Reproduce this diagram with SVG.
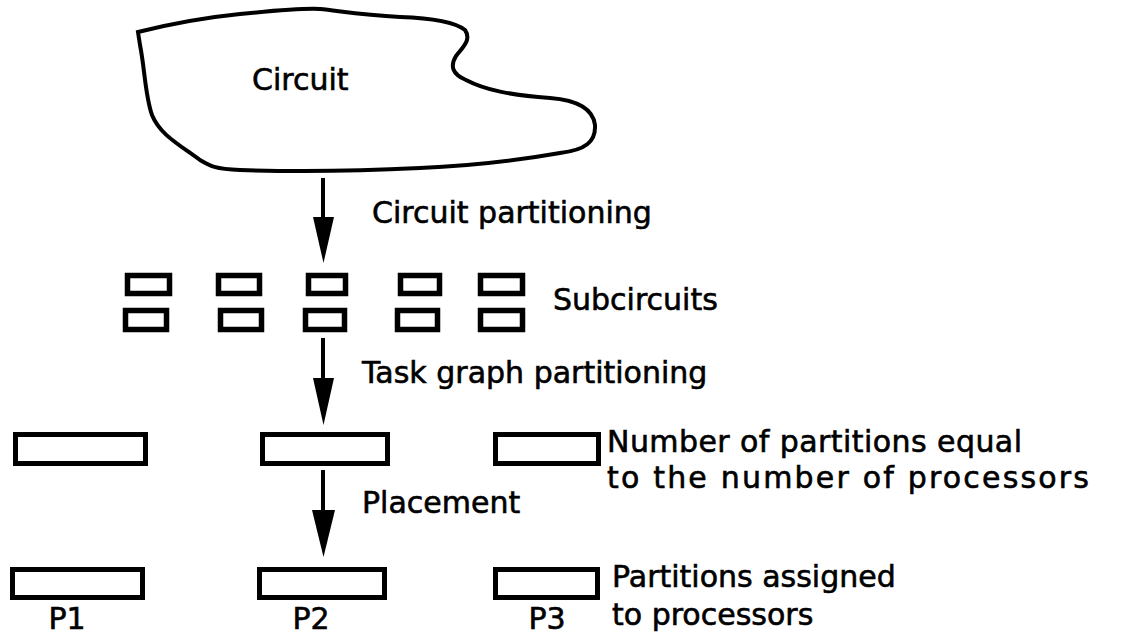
<svg xmlns="http://www.w3.org/2000/svg" width="1124" height="635" viewBox="0 0 1124 635">
<style>
.box{fill:#fff;stroke:#000;stroke-width:5}
.sb{fill:#fff;stroke:#000;stroke-width:5.5}
.t{font-family:"DejaVu Sans",sans-serif;font-size:30px;fill:#000;stroke:#000;stroke-width:0.6}
.shaft{stroke:#000;stroke-width:4;fill:none}
.head{fill:#000}
</style>
<rect width="1124" height="635" fill="#fff"/>
<g id="circuit">
<path d="M138,32 C170,24 200,18 240,14 C270,11 300,8 320,9 C340,11 360,15 400,17 C430,18 455,22 465,30 C472,40 462,48 456,56 C450,66 452,74 466,80 C485,90 510,95 550,98 C575,100 593,108 595,125 C596,142 585,150 560,153 C520,160 470,166 420,168 C360,171 300,172 240,170 C215,169 210,166 200,160 C180,145 160,135 152,115 C145,95 145,70 140,45 Z" fill="#fff" stroke="#000" stroke-width="4"/>
<text class="t" x="252" y="90">Circuit</text>
</g>
<g id="subcircuits">
<rect class="sb" x="127.5" y="275.5" width="42" height="18"/>
<rect class="sb" x="218.5" y="275.5" width="41" height="18"/>
<rect class="sb" x="308.5" y="275.5" width="37" height="18"/>
<rect class="sb" x="400.5" y="275.5" width="39" height="18"/>
<rect class="sb" x="480.5" y="275.5" width="42" height="18"/>
<rect class="sb" x="125.5" y="310.5" width="41" height="19"/>
<rect class="sb" x="220.5" y="310.5" width="41" height="19"/>
<rect class="sb" x="305.5" y="310.5" width="39" height="19"/>
<rect class="sb" x="397.5" y="310.5" width="40" height="19"/>
<rect class="sb" x="480.5" y="310.5" width="42" height="19"/>
<text class="t" x="553" y="310">Subcircuits</text>
</g>
<g id="partitions">
<rect class="box" x="15.5" y="434.5" width="130" height="29"/>
<rect class="box" x="262.5" y="434.5" width="125" height="29"/>
<rect class="box" x="495.5" y="434.5" width="103" height="29"/>
<text class="t" x="607" y="452" textLength="415">Number of partitions equal</text>
<text class="t" x="607" y="488" textLength="482">to the number of processors</text>
</g>
<g id="processors">
<rect class="box" x="12.5" y="569.5" width="130" height="28"/>
<rect class="box" x="259.5" y="569.5" width="125" height="28"/>
<rect class="box" x="495.5" y="569.5" width="102" height="28"/>
<text class="t" x="67" y="629" text-anchor="middle">P1</text>
<text class="t" x="311" y="629" text-anchor="middle">P2</text>
<text class="t" x="547" y="629" text-anchor="middle">P3</text>
<text class="t" x="612" y="587">Partitions assigned</text>
<text class="t" x="612" y="625">to processors</text>
</g>
<g id="connectors">
<line class="shaft" x1="323" y1="178" x2="323" y2="220"/>
<polygon class="head" points="313,217 334,217 323.5,263"/>
<text class="t" x="372" y="223">Circuit partitioning</text>
<line class="shaft" x1="323" y1="338" x2="323" y2="381"/>
<polygon class="head" points="313,378 334,378 323.5,425"/>
<text class="t" x="362" y="383">Task graph partitioning</text>
<line class="shaft" x1="323" y1="470" x2="323" y2="513"/>
<polygon class="head" points="312,510 335,510 323.5,557"/>
<text class="t" x="362" y="513">Placement</text>
</g>
</svg>
